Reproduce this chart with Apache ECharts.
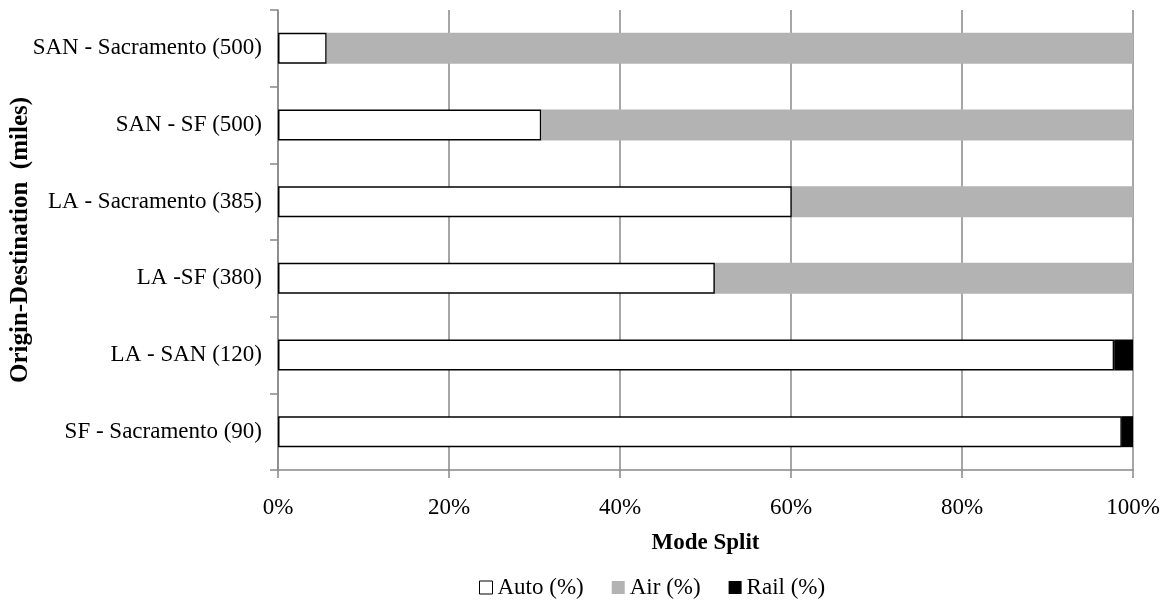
<!DOCTYPE html>
<html><head><meta charset="utf-8">
<script src="https://cdn.jsdelivr.net/npm/echarts@6/dist/echarts.min.js"></script>
<style>html,body{margin:0;padding:0;background:#fff}#c{width:1173px;height:602px}</style>
</head><body><div id="c"></div>
<script>
const categories = ["SF - Sacramento (90)", "LA - SAN (120)", "LA -SF (380)", "LA - Sacramento (385)", "SAN - SF (500)", "SAN - Sacramento (500)"];
const autoPct = [98.7, 97.8, 51.1, 60.1, 30.8, 5.7];
const airPct = [0, 0, 48.9, 39.9, 69.2, 94.3];
const railPct = [1.3, 2.2, 0, 0, 0, 0];
const xTicks = [0, 20, 40, 60, 80, 100];

const font = "Liberation Serif";
const chart = echarts.init(document.getElementById('c'), null, {renderer: 'canvas'});
chart.setOption({
  animation: false,
  backgroundColor: '#fff',
  grid: {left: 278, right: 40, top: 10, bottom: 132, containLabel: false, outerBoundsMode: 'none'},
  legend: {
    top: 571, left: 474,
    itemWidth: 13, itemHeight: 13, itemGap: 28,
    textStyle: {fontFamily: font, fontSize: 23, color: '#000'},
    data: [
      {name: 'Auto (%)', icon: 'rect', itemStyle: {color: '#fff', borderColor: '#000', borderWidth: 1}},
      {name: 'Air (%)', icon: 'rect'},
      {name: 'Rail (%)', icon: 'rect'}
    ]
  },
  xAxis: {
    type: 'value', min: xTicks[0], max: xTicks[xTicks.length - 1], interval: 20,
    name: 'Mode Split', nameLocation: 'middle', nameGap: 62, nameMoveOverlap: false,
    nameTextStyle: {fontFamily: font, fontSize: 23, fontWeight: 'bold', color: '#000'},
    axisLine: {show: true, lineStyle: {color: '#888', width: 1.5}},
    axisTick: {show: true, length: 8, lineStyle: {color: '#888', width: 1.5}},
    axisLabel: {formatter: v => v + '%', fontFamily: font, fontSize: 23, color: '#000', margin: 26},
    splitLine: {show: true, lineStyle: {color: '#888', width: 1.5}}
  },
  yAxis: {
    type: 'category', data: categories, boundaryGap: true,
    name: 'Origin-Destination  (miles)', nameLocation: 'middle', nameGap: 245, nameRotate: 90,
    nameMoveOverlap: false,
    nameTextStyle: {fontFamily: font, fontSize: 25, fontWeight: 'bold', color: '#000'},
    axisLine: {show: true, lineStyle: {color: '#888', width: 1.5}},
    axisTick: {show: true, length: 8, lineStyle: {color: '#888', width: 1.5}},
    axisLabel: {fontFamily: font, fontSize: 23, color: '#000', margin: 16},
    splitLine: {show: false}
  },
  series: [
    {name: 'Auto (%)', type: 'bar', stack: 'm', barWidth: 31, data: autoPct,
      itemStyle: {color: '#fff', borderColor: '#000', borderWidth: 1.5}},
    {name: 'Air (%)', type: 'bar', stack: 'm', barWidth: 31, data: airPct,
      itemStyle: {color: '#b3b3b3'}},
    {name: 'Rail (%)', type: 'bar', stack: 'm', barWidth: 31, data: railPct,
      itemStyle: {color: '#000'}}
  ]
});
</script></body></html>
